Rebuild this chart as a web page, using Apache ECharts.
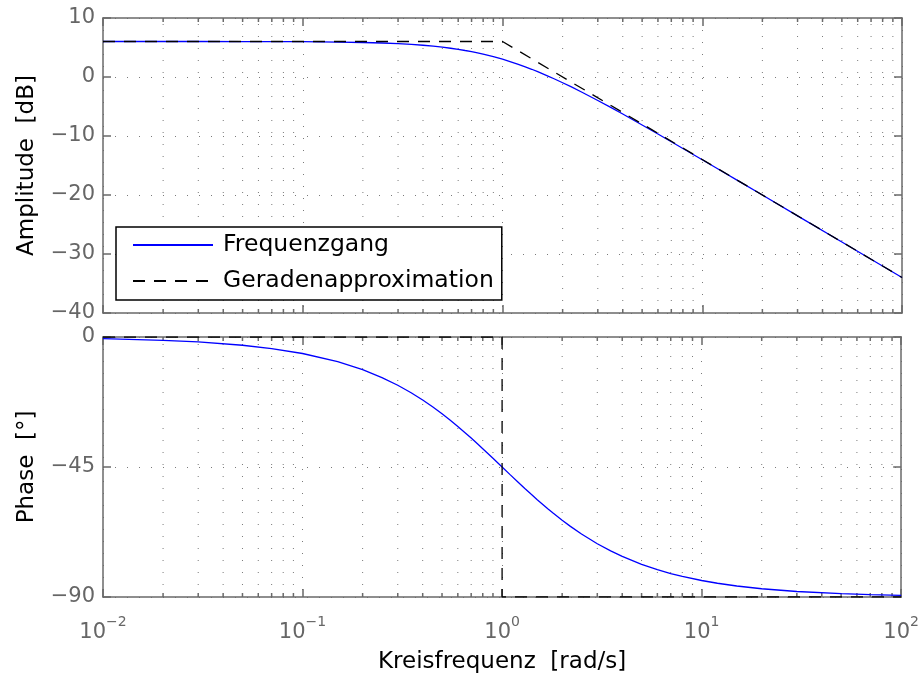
<!DOCTYPE html>
<html>
<head>
<meta charset="utf-8">
<script src="https://cdn.jsdelivr.net/npm/echarts@6/dist/echarts.min.js"></script>
<style>
  html, body { margin: 0; padding: 0; background: #fff; }
  #chart { width: 922px; height: 678px; }
</style>
</head>
<body>
<div id="chart"></div>
<script>
// Angular frequency samples [rad/s]
const freq = [0.01, 0.02, 0.03, 0.05, 0.07, 0.1, 0.15, 0.2, 0.25, 0.3, 0.35, 0.4, 0.45, 0.5, 0.55, 0.6,
              0.65, 0.7, 0.75, 0.8, 0.9, 1, 1.1, 1.2, 1.3, 1.4, 1.5, 1.7, 1.8, 2, 2.2, 2.5, 3, 3.5, 4,
              5, 6, 7, 8, 10, 12, 15, 20, 30, 50, 70, 100];
// Magnitude response [dB]
const ampDb = [6.02, 6.02, 6.02, 6.01, 6.00, 5.98, 5.92, 5.85, 5.76, 5.65, 5.52, 5.38, 5.22, 5.05, 4.87, 4.69,
               4.49, 4.31, 4.08, 3.87, 3.44, 3.01, 2.58, 2.15, 1.72, 1.31, 0.90, 0.12, -0.25, -0.97, -1.64, -2.58, -3.98, -5.20, -6.28,
               -8.13, -9.66, -10.97, -12.11, -14.02, -15.59, -17.52, -20.01, -23.53, -27.96, -30.88, -33.98];
// Phase response [deg]
const phaseDeg = [-0.57, -1.15, -1.72, -2.86, -4.00, -5.71, -8.53, -11.31, -14.04, -16.70, -19.29, -21.80, -24.23, -26.57, -28.81, -30.96,
                  -33.02, -34.99, -36.87, -38.66, -41.99, -45.00, -47.73, -50.19, -52.43, -54.46, -56.31, -59.53, -60.95, -63.43, -65.56, -68.20, -71.57, -74.05, -75.96,
                  -78.69, -80.54, -81.87, -82.87, -84.29, -85.24, -86.19, -87.14, -88.09, -88.85, -89.18, -89.43];

// Straight-line (asymptotic) approximation
const ampAsymFreq = [0.01, 1, 100];
const ampAsymDb = [6.02, 6.02, -33.98];
const phaseAsymFreq = [0.01, 1, 1, 100];
const phaseAsymDeg = [0, 0, -90, -90];

// Minor log grid positions (2..9 per decade)
const minorFreq = [0.02, 0.03, 0.04, 0.05, 0.06, 0.07, 0.08, 0.09,
                   0.2, 0.3, 0.4, 0.5, 0.6, 0.7, 0.8, 0.9,
                   2, 3, 4, 5, 6, 7, 8, 9,
                   20, 30, 40, 50, 60, 70, 80, 90];

// Axis ranges / tick steps
const freqRange = [0.01, 100];
const ampRange = [-40, 10];
const ampStep = 10;
const phaseRange = [-90, 0];
const phaseStep = 45;

const seriesNames = ['Frequenzgang', 'Geradenapproximation'];

const FONT = 'DejaVu Sans';
const FRAME = '#6a6a6a';
const GRIDC = '#7a7a7a';
const DASH = [12, 9];

const pairs = (xs, ys) => xs.map((x, i) => [x, ys[i]]);
const minusSign = v => String(v).replace('-', '\u2212');

function xAxisDef(gridIndex, position, withLabels) {
  const ax = {
    type: 'log', logBase: 10, gridIndex, position,
    min: freqRange[0], max: freqRange[1],
    axisLine: { show: true, onZero: false, lineStyle: { color: FRAME, width: 1.5 } },
    axisTick: { show: true, inside: true, length: 8, lineStyle: { color: FRAME, width: 1.5 } },
    splitLine: { show: position === 'bottom', lineStyle: { color: GRIDC, width: 1, type: [1, 11] } },
    axisLabel: { show: false }
  };
  if (withLabels) {
    ax.axisLabel = {
      show: true, margin: 12,
      formatter: v => {
        const e = Math.round(Math.log10(v));
        return '{b|10}{s|' + minusSign(e) + '}';
      },
      rich: {
        b: { fontFamily: FONT, fontSize: 21, color: '#666', lineHeight: 34, verticalAlign: 'bottom' },
        s: { fontFamily: FONT, fontSize: 14, color: '#666', lineHeight: 34, verticalAlign: 'bottom', padding: [0, 0, 14, 0] }
      }
    };
    ax.name = 'Kreisfrequenz  [rad/s]';
    ax.nameLocation = 'middle';
    ax.nameGap = 54;
    ax.nameTextStyle = { fontFamily: FONT, fontSize: 23, color: '#000' };
  }
  return ax;
}

function yAxisDef(gridIndex, position, range, step, name) {
  const left = position === 'left';
  const ax = {
    type: 'value', gridIndex, position,
    min: range[0], max: range[1], interval: step,
    axisLine: { show: true, onZero: false, lineStyle: { color: FRAME, width: 1.5 } },
    axisTick: { show: true, inside: true, length: 8, lineStyle: { color: FRAME, width: 1.5 } },
    splitLine: { show: left, lineStyle: { color: GRIDC, width: 1, type: [1, 11] } },
    axisLabel: left ? {
      show: true, margin: 8, fontFamily: FONT, fontSize: 21, color: '#666',
      formatter: v => minusSign(v)
    } : { show: false }
  };
  if (left) {
    ax.name = name;
    ax.nameLocation = 'middle';
    ax.nameGap = 64;
    ax.nameRotate = 90;
    ax.nameTextStyle = { fontFamily: FONT, fontSize: 23, color: '#000' };
  }
  return ax;
}

function minorGrid(xAxisIndex, yAxisIndex, range) {
  return {
    type: 'custom', xAxisIndex, yAxisIndex, silent: true, z: 1,
    data: minorFreq.map(f => [f, range[0]]),
    encode: { x: 0, y: 1 },
    renderItem(params, api) {
      const f = api.value(0);
      const b = api.coord([f, range[0]]);
      const t = api.coord([f, range[1]]);
      return {
        type: 'group',
        children: [
          { type: 'line', shape: { x1: b[0], y1: b[1], x2: t[0], y2: t[1] },
            style: { stroke: GRIDC, lineWidth: 1, lineDash: [1, 11] } },
          { type: 'line', shape: { x1: b[0], y1: b[1], x2: b[0], y2: b[1] - 4 },
            style: { stroke: FRAME, lineWidth: 1.5 } },
          { type: 'line', shape: { x1: t[0], y1: t[1], x2: t[0], y2: t[1] + 4 },
            style: { stroke: FRAME, lineWidth: 1.5 } }
        ]
      };
    }
  };
}

function curve(name, xAxisIndex, yAxisIndex, data, dashed) {
  return {
    type: 'line', name, xAxisIndex, yAxisIndex, data,
    symbol: 'none', showSymbol: false, z: dashed ? 4 : 3,
    smooth: false,
    lineStyle: dashed
      ? { color: '#000', width: 1.3, type: DASH }
      : { color: '#0000ff', width: 1.3 },
    itemStyle: { color: dashed ? '#000' : '#0000ff' }
  };
}

const chart = echarts.init(document.getElementById('chart'), null, { renderer: 'canvas' });
chart.setOption({
  animation: false,
  backgroundColor: '#fff',
  textStyle: { fontFamily: FONT },
  grid: [
    { left: 103, right: 20, top: 18, height: 295, containLabel: false },
    { left: 103, right: 20, top: 337, height: 260, containLabel: false }
  ],
  xAxis: [
    xAxisDef(0, 'bottom', false),
    xAxisDef(0, 'top', false),
    xAxisDef(1, 'bottom', true),
    xAxisDef(1, 'top', false)
  ],
  yAxis: [
    yAxisDef(0, 'left', ampRange, ampStep, 'Amplitude  [dB]'),
    yAxisDef(0, 'right', ampRange, ampStep),
    yAxisDef(1, 'left', phaseRange, phaseStep, 'Phase  [\u00b0]'),
    yAxisDef(1, 'right', phaseRange, phaseStep)
  ],
  legend: {
    data: seriesNames,
    orient: 'vertical',
    left: 116, top: 227,
    padding: [5, 8, 6, 16],
    itemWidth: 80, itemHeight: 14, itemGap: 10,
    itemStyle: { opacity: 0 },
    backgroundColor: '#fff',
    borderColor: '#000', borderWidth: 1.5, borderRadius: 0,
    selectedMode: false,
    textStyle: { fontFamily: FONT, fontSize: 23.5, color: '#000', lineHeight: 26, padding: [0, 0, 0, 5] }
  },
  series: [
    minorGrid(0, 0, ampRange),
    minorGrid(2, 2, phaseRange),
    curve(seriesNames[0], 0, 0, pairs(freq, ampDb), false),
    curve(seriesNames[1], 0, 0, pairs(ampAsymFreq, ampAsymDb), true),
    curve(seriesNames[0], 2, 2, pairs(freq, phaseDeg), false),
    curve(seriesNames[1], 2, 2, pairs(phaseAsymFreq, phaseAsymDeg), true)
  ]
});
</script>
</body>
</html>
